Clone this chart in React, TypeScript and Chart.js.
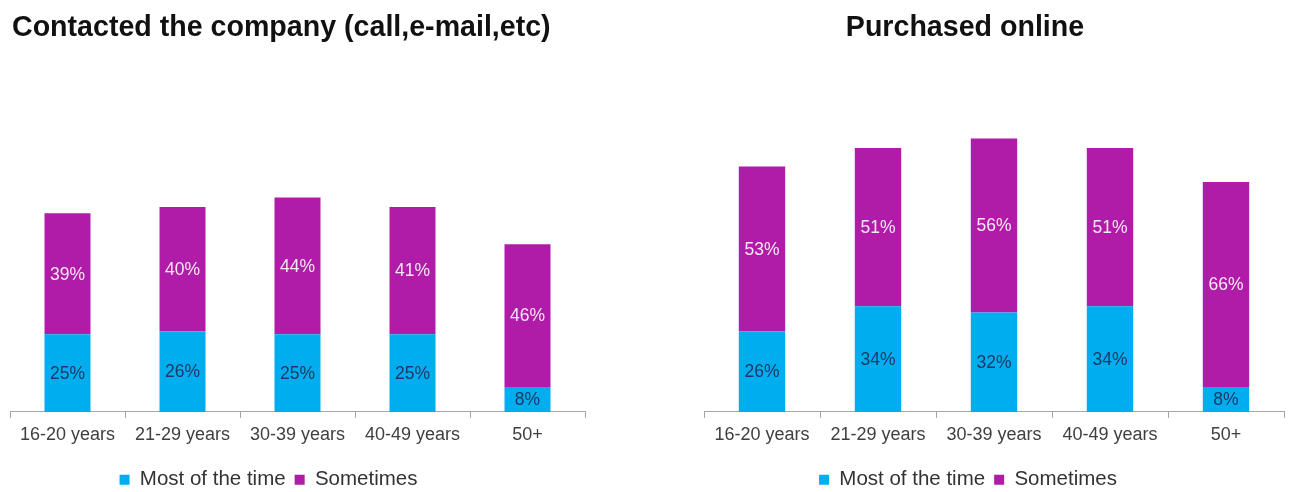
import { useEffect, useRef } from 'react';
import { Chart, registerables } from 'chart.js';

Chart.register(...registerables);

// Survey answers by age group (percent of respondents)
const ageGroups = ['16-20 years', '21-29 years', '30-39 years', '40-49 years', '50+'];
const seriesNames = ['Most of the time', 'Sometimes'];

const contactedMostOfTheTime = [25, 26, 25, 25, 8];
const contactedSometimes = [39, 40, 44, 41, 46];

const purchasedMostOfTheTime = [26, 34, 32, 34, 8];
const purchasedSometimes = [53, 51, 56, 51, 66];

const CYAN = '#00AEEF';
const MAGENTA = '#B01BA7';
const LABEL_COLORS = ['#1F3864', '#F6E8F4'];
const AXIS_COLOR = '#A6A6A6';
const FONT = "'Liberation Sans', Arial, sans-serif";

const WIDTH = 1289;
const HEIGHT = 492;

// Writes each segment's value in the middle of its bar segment
const segmentLabels = {
  id: 'segmentLabels',
  afterDatasetsDraw(chart: any) {
    const ctx = chart.ctx;
    ctx.save();
    ctx.font = `17.5px ${FONT}`;
    ctx.textAlign = 'center';
    ctx.textBaseline = 'middle';
    chart.data.datasets.forEach((ds: any, i: number) => {
      const meta = chart.getDatasetMeta(i);
      if (meta.hidden) return;
      meta.data.forEach((bar: any, j: number) => {
        const { x, y, base } = bar.getProps(['x', 'y', 'base'], true);
        ctx.fillStyle = LABEL_COLORS[i];
        ctx.fillText(`${ds.data[j]}%`, x, (y + base) / 2 + 1);
      });
    });
    ctx.restore();
  },
};

// Moves the title and legend blocks independently of the plot area
function makeBoxShift(titleDx: number, titleDy: number, legendDx: number, legendDy: number) {
  return {
    id: 'boxShift',
    afterLayout(chart: any) {
      const move = (box: any, dx: number, dy: number) => {
        if (!box) return;
        box.left += dx;
        box.right += dx;
        box.top += dy;
        box.bottom += dy;
      };
      move(chart.titleBlock, titleDx, titleDy);
      move(chart.legend, legendDx, legendDy);
    },
  };
}

interface PanelProps {
  title: string;
  titleAlign: 'start' | 'center';
  most: number[];
  sometimes: number[];
  left: number;
  width: number;
  padLeft: number;
  padRight: number;
  titleDx: number;
  legendDx: number;
}

function StackedPanel(props: PanelProps) {
  const ref = useRef<HTMLCanvasElement | null>(null);

  useEffect(() => {
    if (!ref.current) return;
    const chart = new Chart(ref.current, {
      type: 'bar',
      data: {
        labels: ageGroups,
        datasets: [
          { label: seriesNames[0], data: props.most, backgroundColor: CYAN, borderWidth: 0 },
          { label: seriesNames[1], data: props.sometimes, backgroundColor: MAGENTA, borderWidth: 0 },
        ],
      },
      options: {
        responsive: false,
        animation: false,
        devicePixelRatio: 1,
        layout: { padding: { left: props.padLeft, right: props.padRight, top: 0, bottom: 1 } },
        datasets: { bar: { barPercentage: 0.4, categoryPercentage: 1 } },
        scales: {
          x: {
            stacked: true,
            offset: true,
            grid: {
              display: true,
              drawOnChartArea: false,
              drawTicks: true,
              tickLength: 6,
              color: AXIS_COLOR,
              offset: true,
            },
            border: { display: true, color: AXIS_COLOR, width: 1 },
            ticks: {
              color: '#404040',
              font: { family: FONT, size: 18 },
              padding: 6,
              maxRotation: 0,
              autoSkip: false,
            },
          },
          y: { stacked: true, display: false, min: 0, max: 100 },
        },
        plugins: {
          title: {
            display: true,
            text: props.title,
            align: props.titleAlign,
            color: '#111111',
            font: { family: FONT, size: 28.6, weight: 'bold' },
            padding: { top: 11, bottom: 56 },
          },
          legend: {
            position: 'bottom',
            labels: {
              boxWidth: 10,
              boxHeight: 10,
              padding: 9,
              color: '#333333',
              font: { family: FONT, size: 20.5 },
            },
          },
          tooltip: { enabled: false },
        },
      } as any,
      plugins: [segmentLabels, makeBoxShift(props.titleDx, 0, props.legendDx, 9)],
    });
    return () => chart.destroy();
  }, []);

  return (
    <canvas
      ref={ref}
      width={props.width}
      height={HEIGHT}
      style={{ position: 'absolute', left: props.left, top: 0, width: props.width, height: HEIGHT, display: 'block' }}
    />
  );
}

export default function App() {
  return (
    <div style={{ position: 'fixed', left: 0, top: 0, width: WIDTH, height: HEIGHT, background: '#ffffff', overflow: 'hidden' }}>
      <StackedPanel
        title="Contacted the company (call,e-mail,etc)"
        titleAlign="start"
        most={contactedMostOfTheTime}
        sometimes={contactedSometimes}
        left={0}
        width={640}
        padLeft={10}
        padRight={55}
        titleDx={2}
        legendDx={-29}
      />
      <StackedPanel
        title="Purchased online"
        titleAlign="center"
        most={purchasedMostOfTheTime}
        sometimes={purchasedSometimes}
        left={640}
        width={649}
        padLeft={64}
        padRight={5}
        titleDx={-29}
        legendDx={-26}
      />
    </div>
  );
}
